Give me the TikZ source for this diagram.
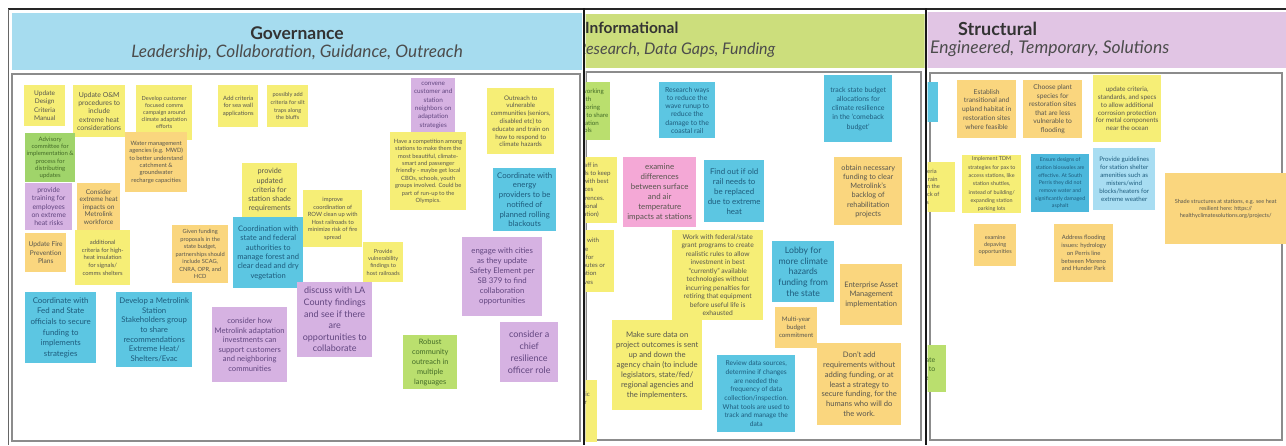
\documentclass[tikz,border=0pt]{standalone}
\usepackage{fontspec}
\setmainfont{Lato}
\usetikzlibrary{positioning}
\definecolor{govblue}{RGB}{166,220,239}
\definecolor{infogreen}{RGB}{204,222,124}
\definecolor{structpurple}{RGB}{225,197,228}
\definecolor{stickyyellow}{RGB}{246,238,118}
\definecolor{stickyorange}{RGB}{250,214,126}
\definecolor{stickyblue}{RGB}{92,198,226}
\definecolor{stickydeep}{RGB}{76,184,220}
\definecolor{stickysky}{RGB}{168,221,242}
\definecolor{stickypurple}{RGB}{214,178,226}
\definecolor{stickygreen}{RGB}{160,212,106}
\definecolor{stickylime}{RGB}{186,223,110}
\definecolor{stickypink}{RGB}{244,168,214}
\definecolor{inkgray}{RGB}{88,86,78}
\definecolor{inkblue}{RGB}{30,92,125}
\definecolor{inkpurple}{RGB}{98,70,128}
\definecolor{inkgreen}{RGB}{68,108,40}

\begin{document}
\begin{tikzpicture}[x=1pt,y=-1pt,
    note/.style={anchor=north west,inner sep=0pt,align=center,text=inkgray},
    wh/.style 2 args={minimum width=#1,minimum height=#2},
    fs/.style 2 args={font=\fontsize{#1}{#2}\selectfont},
    yel/.style={note,fill=stickyyellow},
    org/.style={note,fill=stickyorange},
    blu/.style={note,fill=stickyblue,text=inkblue},
    deep/.style={note,fill=stickydeep,text=inkblue},
    sky/.style={note,fill=stickysky,text=inkblue},
    pur/.style={note,fill=stickypurple,text=inkpurple},
    grn/.style={note,fill=stickygreen,text=inkgreen},
    lime/.style={note,fill=stickylime,text=inkgreen},
    pnk/.style={note,fill=stickypink},
    head/.style={anchor=north west,inner sep=0pt},
    title/.style={inner sep=0pt,text=black!80,font=\fontsize{#1}{19}\selectfont\bfseries},
    subtitle/.style={inner sep=0pt,text=black!70,font=\fontsize{#1}{19}\selectfont\itshape},
    board/.style={draw=black!45,line width=1.2pt}]
  \useasboundingbox (0,0) rectangle (1286,445);
  \fill[white] (0,0) rectangle (1286,445);

  % Governance
  \node[head,fill=govblue,wh={570}{57}] (govhead) at (12,13) {};
  \node[title=17.5] (govtitle) at (297,33) {Governance};
  \node[subtitle=17.2,below=5pt of govtitle] (govsub) {Leadership, Collaboration, Guidance, Outreach};
  \draw[board] (12,74) rectangle (580,441);

  \node[yel,wh={41}{41},fs={6.5}{8.3}] (designmanual) at (24,85) {Update\\Design\\Criteria\\Manual};
  \node[yel,wh={52}{52},fs={6.9}{8.3}] (omheat) at (73,85) {Update O\&M\\procedures to\\include\\extreme heat\\considerations};
  \node[yel,wh={56}{55},fs={5.6}{7}] (commscampaign) at (136,85) {Develop customer\\focused comms\\campaign around\\climate adaptation\\efforts};
  \node[grn,wh={50}{49},fs={6}{7.3}] (advisory) at (25,133) {Advisory\\committee for\\implementation \&\\process for\\distributing\\updates};
  \node[org,wh={62}{60},fs={5.9}{7.3}] (watermgmt) at (125,132) {Water management\\agencies (e.g. MWD)\\to better understand\\catchment \&\\groundwater\\recharge capacities};
  \node[pur,wh={47}{47},fs={6.9}{8.3}] (training) at (25,183) {provide\\training for\\employees\\on extreme\\heat risks};
  \node[org,wh={43}{47},fs={6.6}{7.5}] (workforce) at (77,183) {Consider\\extreme heat\\impacts on\\Metrolink\\workforce};
  \node[org,wh={41}{39},fs={6.6}{8.3}] (fireplans) at (25,233) {Update Fire\\Prevention\\Plans};
  \node[yel,wh={55}{55},fs={5.9}{7.8}] (insulation) at (75,230) {additional\\criteria for high-\\heat insulation\\for signals/\\comms shelters};
  \node[org,wh={56}{58},fs={5.7}{7.5}] (partnerships) at (172,225) {Given funding\\proposals in the\\state budget,\\partnerships should\\include SCAG,\\CNRA, OPR, and\\HCD};
  \node[yel,wh={40}{42},fs={5.9}{7.5}] (seawall) at (218,85) {Add criteria\\for sea wall\\applications};
  \node[yel,wh={41}{42},fs={5.6}{7.6}] (silttraps) at (267,85) {possibly add\\criteria for silt\\traps along\\the bluffs};
  \node[yel,wh={55}{54},fs={7.3}{9.2}] (shadecriteria) at (242,163) {provide\\updated\\criteria for\\station shade\\requirements};
  \node[yel,wh={59}{57},fs={5.8}{7.5}] (rowcleanup) at (303,190) {improve\\coordination of\\ROW clean up with\\Host railroads to\\minimize risk of fire\\spread};
  \node[blu,wh={70}{71},fs={7.6}{9.3}] (forest) at (233,217) {Coordination with\\state and federal\\authorities to\\manage forest and\\clear dead and dry\\vegetation};
  \node[yel,wh={40}{40},fs={5.6}{7.3}] (hostfindings) at (363,242) {Provide\\vulnerability\\findings to\\host railroads};
  \node[pur,wh={75}{75},fs={9}{11.6}] (lacounty) at (297,282) {discuss with LA\\County findings\\and see if there\\are\\opportunities to\\collaborate};
  \node[pur,wh={75}{75},fs={7.6}{9.5}] (investments) at (212,307) {consider how\\Metrolink adaptation\\investments can\\support customers\\and neighboring\\communities};
  \node[blu,wh={71}{71},fs={7.9}{10.7}] (fedstate) at (25,292) {Coordinate with\\Fed and State\\officials to secure\\funding to\\implements\\strategies};
  \node[blu,wh={76}{75},fs={7.8}{9.7}] (stakeholders) at (116,292) {Develop a Metrolink\\Station\\Stakeholders group\\to share\\recommendations\\Extreme Heat/\\Shelters/Evac};
  \node[pur,wh={44}{54},fs={6.4}{8.3}] (convene) at (411,78) {convene\\customer and\\station\\neighbors on\\adaptation\\strategies};
  \node[yel,wh={76}{78},fs={5.8}{7.4}] (competition) at (390,132) {Have a competition among\\stations to make them the\\most beautiful, climate-\\smart and passenger\\friendly - maybe get local\\CBOs, schools, youth\\groups involved. Could be\\part of run-up to the\\Olympics.};
  \node[yel,wh={67}{66},fs={6.3}{7.8}] (outreach) at (487,88) {Outreach to\\vulnerable\\communities (seniors,\\disabled etc) to\\educate and train on\\how to respond to\\climate hazards};
  \node[blu,wh={63}{63},fs={7.8}{9.7}] (blackouts) at (493,168) {Coordinate with\\energy\\providers to be\\notified of\\planned rolling\\blackouts};
  \node[pur,wh={80}{79},fs={7.8}{10}] (safety) at (462,237) {engage with cities\\as they update\\Safety Element per\\SB 379 to find\\collaboration\\opportunities};
  \node[lime,wh={54}{54},fs={7.4}{10}] (languages) at (403,335) {Robust\\community\\outreach in\\multiple\\languages};
  \node[pur,wh={58}{60},fs={9}{12}] (resilience) at (500,322) {consider a\\chief\\resilience\\officer role};

  % Informational
  \begin{scope}
    \clip (585.5,0) rectangle (924.5,445);
    \node[head,fill=infogreen,wh={340}{54}] (infohead) at (585,14) {};
    \node[title=15.5,anchor=west] (infotitle) at (585,28) {Informational};
    \node[subtitle=16,anchor=west] (infosub) at (577,50) {Research, Data Gaps, Funding};
    \draw[board] (586,72) rectangle (921,440);

    \node[lime,wh={50}{58},fs={6.2}{7.8}] (toolshare) at (560,82) {Keep working\\with\\monitoring\\partners to share\\mitigation\\tools};
    \node[yel,wh={72}{66},fs={6.2}{8.3}] (trainstaff) at (545,157) {Train staff in\\new methods to keep\\up to date with best\\practices\\and conferences.\\professional\\organization)};
    \node[yel,wh={74}{62},fs={6.2}{8.3}] (firealt) at (540,230) {Coordinate with\\host fire\\agencies for\\evacuation routes or\\transportation\\alternatives};
    \node[yel,wh={57}{62},fs={6.2}{8.3}] (clipped) at (540,380) {Track economic\\impact factor\\used to\\\\guide spend};
    \node[blu,wh={56}{56},fs={6.9}{8.2}] (waverunup) at (659,82) {Research ways\\to reduce the\\wave runup to\\reduce the\\damage to the\\coastal rail};
    \node[pnk,wh={73}{70},fs={7.9}{9.9}] (surfaceair) at (623,157) {examine\\differences\\between surface\\and air\\temperature\\impacts at stations};
    \node[blu,wh={60}{62},fs={7.9}{10}] (oldrail) at (704,160) {Find out if old\\rail needs to\\be replaced\\due to extreme\\heat};
    \node[blu,wh={68}{67},fs={7}{9.2}] (comeback) at (824,75) {track state budget\\allocations for\\climate resilience\\in the 'comeback\\budget'};
    \node[org,wh={68}{68},fs={7.3}{9.2}] (backlog) at (834,157) {obtain necessary\\funding to clear\\Metrolink's\\backlog of\\rehabilitation\\projects};
    \node[yel,wh={91}{90},fs={6.7}{8.5}] (grantrules) at (672,230) {Work with federal/state\\grant programs to create\\realistic rules to allow\\investment in best\\``currently'' available\\technologies without\\incurring penalties for\\retiring that equipment\\before useful life is\\exhausted};
    \node[yel,wh={90}{90},fs={7.7}{9.9}] (datachain) at (612,320) {Make sure data on\\project outcomes is sent\\up and down the\\agency chain (to include\\legislators, state/fed/\\regional agencies and\\the implementers.};
    \node[blu,wh={78}{77},fs={6.7}{8.7}] (datasources) at (717,355) {Review data sources,\\determine if changes\\are needed the\\frequency of data\\collection/inspection.\\What tools are used to\\track and manage the\\data};
    \node[blu,wh={62}{61},fs={8.7}{10.7}] (lobby) at (772,241) {Lobby for\\more climate\\hazards\\funding from\\the state};
    \node[org,wh={62}{61},fs={7.5}{9.5}] (assetmgmt) at (840,264) {Enterprise Asset\\Management\\implementation};
    \node[org,wh={42}{41},fs={6.2}{8}] (multiyear) at (775,307) {Multi-year\\budget\\commitment};
    \node[org,wh={84}{82},fs={7.6}{9.7}] (humans) at (817,343) {Don't add\\requirements without\\adding funding, or at\\least a strategy to\\secure funding, for the\\humans who will do\\the work.};
  \end{scope}

  % Structural
  \begin{scope}
    \clip (927.5,0) rectangle (1286,445);
    \node[head,fill=structpurple,wh={360}{56}] (structhead) at (927,12) {};
    \node[title=18,anchor=west] (structtitle) at (958,29) {Structural};
    \node[subtitle=17.5,anchor=west] (structsub) at (930,49) {Engineered, Temporary, Solutions};
    \draw[board] (930,73) rectangle (1282,440);

    \node[blu,wh={38}{40}] (edgeblue) at (900,82) {};
    \node[yel,wh={75}{50},fs={5.8}{7.8}] (canopies) at (880,162) {Update criteria\\for sun and rain\\protection on the\\front and back of\\canopies};
    \node[lime,wh={56}{47},fs={7}{9}] (edgegreen) at (890,345) {Coordinate\\planning to\\reduce};
    \node[org,wh={59}{58},fs={6.7}{8.7}] (habitat) at (957,80) {Establish\\transitional and\\upland habitat in\\restoration sites\\where feasible};
    \node[org,wh={59}{58},fs={6.7}{8.5}] (plants) at (1023,80) {Choose plant\\species for\\restoration sites\\that are less\\vulnerable to\\flooding};
    \node[yel,wh={68}{67},fs={6.5}{7.9}] (corrosion) at (1093,75) {update criteria,\\standards, and specs\\to allow additional\\corrosion protection\\for metal components\\near the ocean};
    \node[yel,wh={59}{58},fs={5.4}{8.3}] (tdm) at (962,155) {Implement TDM\\strategies for pax to\\access stations, like\\station shuttles,\\instead of building/\\expanding station\\parking lots};
    \node[deep,wh={58}{58},fs={5.3}{7.7}] (bioswales) at (1031,154) {Ensure designs of\\station bioswales are\\effective. At South\\Perris they did not\\remove water and\\significantly damaged\\asphalt};
    \node[sky,wh={62}{62},fs={6.2}{8}] (shelters) at (1093,148) {Provide guidelines\\for station shelter\\amenities such as\\misters/wind\\blocks/heaters for\\extreme weather};
    \node[org,wh={121}{71},fs={5.6}{6.9}] (shade) at (1165,173) {Shade structures at stations, e.g. see heat\\resilient here: https://\\healthyclimatesolutions.org/projects/};
    \node[org,wh={42}{42},fs={5.6}{7}] (depaving) at (974,224) {examine\\depaving\\opportunities};
    \node[org,wh={59}{58},fs={5.9}{7.7}] (perris) at (1054,224) {Address flooding\\issues: hydrology\\on Perris line\\between Moreno\\and Hunder Park};
  \end{scope}

  \draw[line width=2pt,black!85] (8,9) -- (1286,9);
  \draw[line width=0.8pt,black!60] (8,9) -- (8,445);
  \draw[line width=2.5pt,black!90] (584,8) -- (584,445);
  \draw[line width=2.5pt,black!90] (926,8) -- (926,445);
\end{tikzpicture}
\end{document}
